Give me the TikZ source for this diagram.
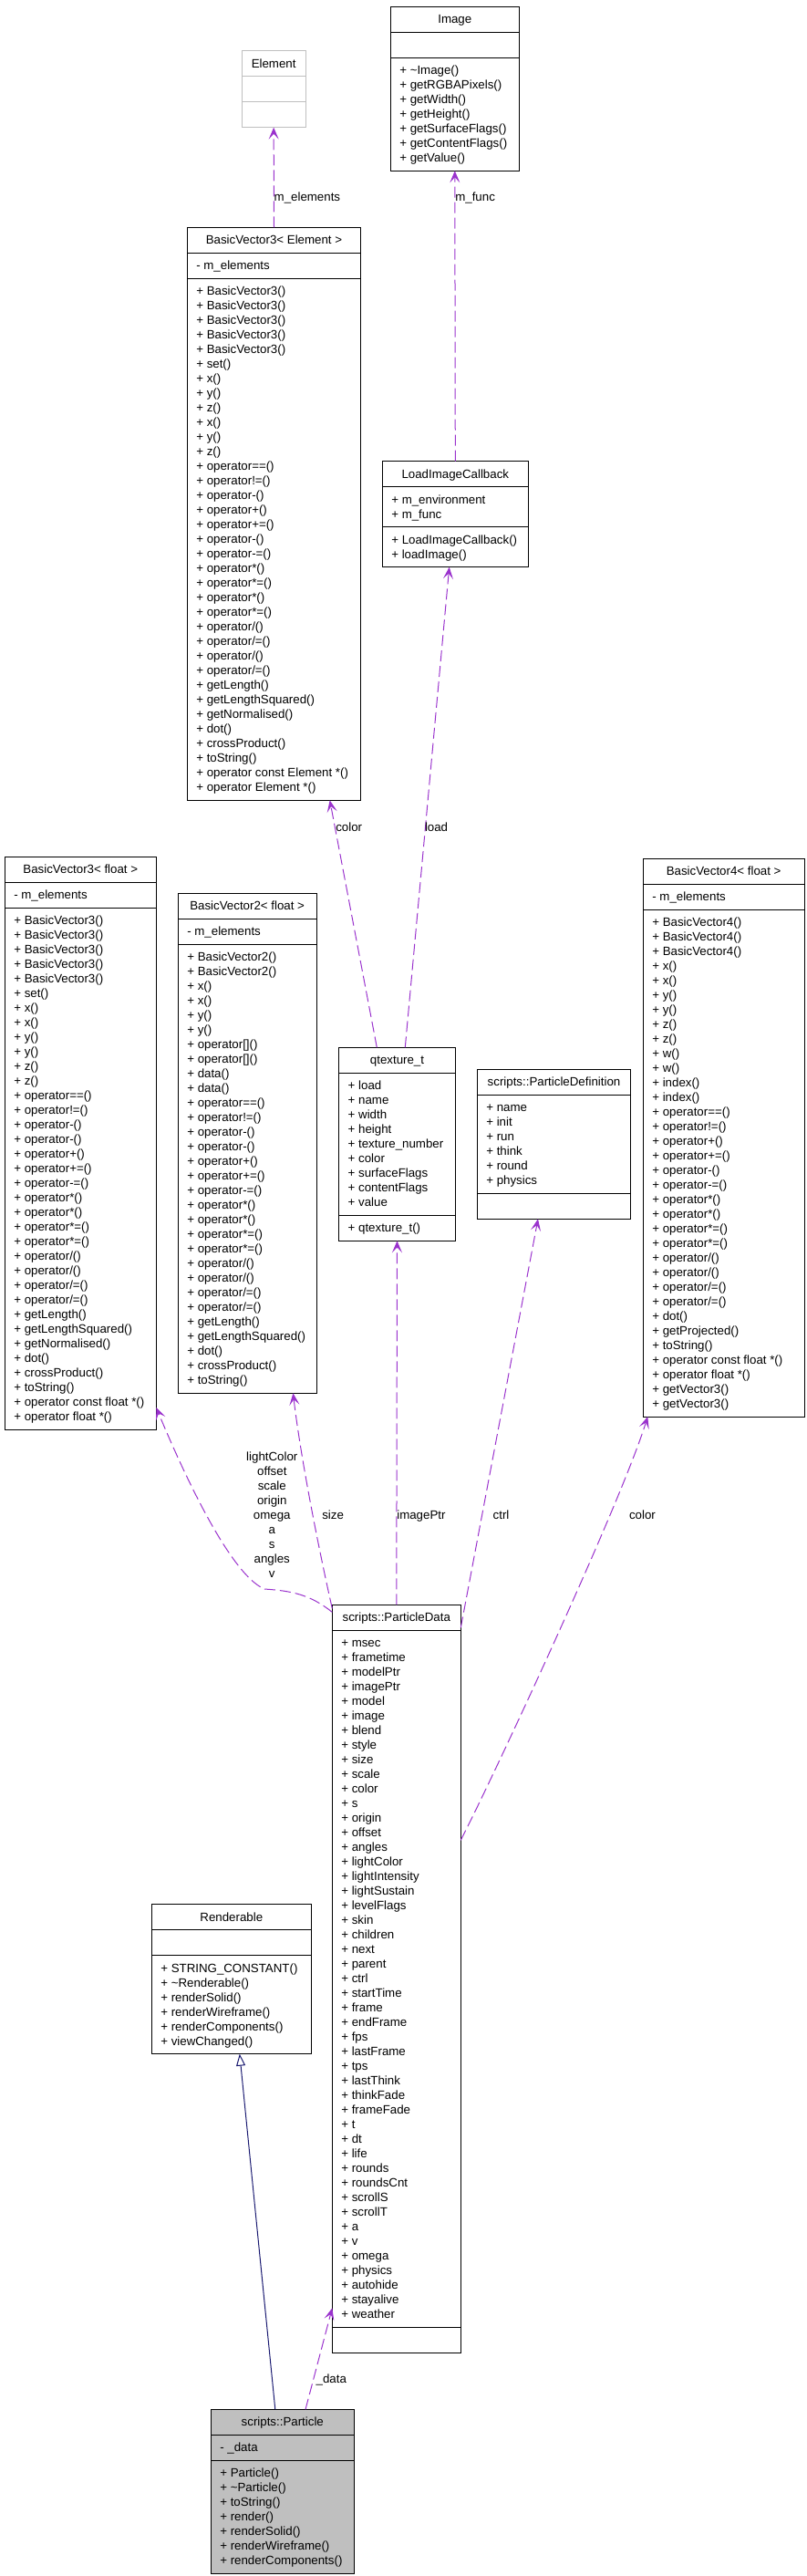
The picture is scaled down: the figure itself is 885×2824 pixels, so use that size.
\documentclass[tikz,border=0pt]{standalone}
\usepackage{fontspec}
\setmainfont{Liberation Sans}
\usetikzlibrary{shapes.multipart,arrows.meta}
\definecolor{dkor}{HTML}{9A32CD}
\definecolor{navyc}{HTML}{191970}
\definecolor{gry}{HTML}{BFBFBF}
\newcommand{\st}{\rule[-3.5pt]{0pt}{16pt}}
\newcommand{\pu}[1]{\st\mbox{+ #1}}
\newcommand{\pv}[1]{\st\mbox{- #1}}
\newcommand{\ttl}[1]{\st #1}
\hfuzz=50pt
\begin{document}
\begin{tikzpicture}[x=1pt,y=-1pt,
  cls/.style={rectangle split, rectangle split parts=3, draw=black, line width=1pt,
    rectangle split part align={center,left,left}, align=left,
    inner xsep=10pt, inner ysep=5.5pt, outer sep=0pt, anchor=north west,
    font=\fontsize{13.3pt}{16pt}\selectfont},
  lbl/.style={inner sep=0pt, outer sep=0pt, font=\fontsize{13.3pt}{16pt}\selectfont},
  use/.style={draw=dkor, line width=1pt, dash pattern=on 12pt off 5pt,
    -{Stealth[length=13pt,width=11pt,inset=6pt]}},
  inh/.style={draw=navyc, line width=1pt, -{Triangle[open,length=13pt,width=10pt]}}]
\useasboundingbox (0,0) rectangle (885,2824);

% classes
\node[cls, draw=gry, minimum width=70.3pt] (el) at (265,55.7)
  {\ttl{Element}\nodepart{second}\st\nodepart{third}\st};

\node[cls, minimum width=141pt] (img) at (428.3,7.3)
  {\ttl{Image}\nodepart{second}\st\nodepart{third}%
  \pu{\textasciitilde Image()}\\\pu{getRGBAPixels()}\\\pu{getWidth()}\\\pu{getHeight()}\\%
  \pu{getSurfaceFlags()}\\\pu{getContentFlags()}\\\pu{getValue()}};

\node[cls, minimum width=190.4pt] (bve) at (205.3,249.3)
  {\ttl{BasicVector3< Element >}\nodepart{second}\pv{m\_elements}\nodepart{third}%
  \pu{BasicVector3()}\\\pu{BasicVector3()}\\\pu{BasicVector3()}\\\pu{BasicVector3()}\\\pu{BasicVector3()}\\%
  \pu{set()}\\\pu{x()}\\\pu{y()}\\\pu{z()}\\\pu{x()}\\\pu{y()}\\\pu{z()}\\%
  \pu{operator==()}\\\pu{operator!=()}\\\pu{operator-()}\\\pu{operator+()}\\\pu{operator+=()}\\%
  \pu{operator-()}\\\pu{operator-=()}\\\pu{operator*()}\\\pu{operator*=()}\\\pu{operator*()}\\%
  \pu{operator*=()}\\\pu{operator/()}\\\pu{operator/=()}\\\pu{operator/()}\\\pu{operator/=()}\\%
  \pu{getLength()}\\\pu{getLengthSquared()}\\\pu{getNormalised()}\\\pu{dot()}\\%
  \pu{crossProduct()}\\\pu{toString()}\\\pu{operator const Element *()}\\\pu{operator Element *()}};

\node[cls, minimum width=160pt] (lic) at (419.3,505.7)
  {\ttl{LoadImageCallback}\nodepart{second}\pu{m\_environment}\\\pu{m\_func}\nodepart{third}%
  \pu{LoadImageCallback()}\\\pu{loadImage()}};

\node[cls, minimum width=166pt] (bv3f) at (5.3,939)
  {\ttl{BasicVector3< float >}\nodepart{second}\pv{m\_elements}\nodepart{third}%
  \pu{BasicVector3()}\\\pu{BasicVector3()}\\\pu{BasicVector3()}\\\pu{BasicVector3()}\\\pu{BasicVector3()}\\%
  \pu{set()}\\\pu{x()}\\\pu{x()}\\\pu{y()}\\\pu{y()}\\\pu{z()}\\\pu{z()}\\%
  \pu{operator==()}\\\pu{operator!=()}\\\pu{operator-()}\\\pu{operator-()}\\\pu{operator+()}\\%
  \pu{operator+=()}\\\pu{operator-=()}\\\pu{operator*()}\\\pu{operator*()}\\\pu{operator*=()}\\%
  \pu{operator*=()}\\\pu{operator/()}\\\pu{operator/()}\\\pu{operator/=()}\\\pu{operator/=()}\\%
  \pu{getLength()}\\\pu{getLengthSquared()}\\\pu{getNormalised()}\\\pu{dot()}\\%
  \pu{crossProduct()}\\\pu{toString()}\\\pu{operator const float *()}\\\pu{operator float *()}};

\node[cls, minimum width=151.7pt] (bv2f) at (195.3,979.3)
  {\ttl{BasicVector2< float >}\nodepart{second}\pv{m\_elements}\nodepart{third}%
  \pu{BasicVector2()}\\\pu{BasicVector2()}\\\pu{x()}\\\pu{x()}\\\pu{y()}\\\pu{y()}\\%
  \pu{operator[]()}\\\pu{operator[]()}\\\pu{data()}\\\pu{data()}\\%
  \pu{operator==()}\\\pu{operator!=()}\\\pu{operator-()}\\\pu{operator-()}\\\pu{operator+()}\\%
  \pu{operator+=()}\\\pu{operator-=()}\\\pu{operator*()}\\\pu{operator*()}\\\pu{operator*=()}\\%
  \pu{operator*=()}\\\pu{operator/()}\\\pu{operator/()}\\\pu{operator/=()}\\\pu{operator/=()}\\%
  \pu{getLength()}\\\pu{getLengthSquared()}\\\pu{dot()}\\\pu{crossProduct()}\\\pu{toString()}};

\node[cls, minimum width=127.6pt] (qt) at (371.7,1148.3)
  {\ttl{qtexture\_t}\nodepart{second}%
  \pu{load}\\\pu{name}\\\pu{width}\\\pu{height}\\\pu{texture\_number}\\\pu{color}\\%
  \pu{surfaceFlags}\\\pu{contentFlags}\\\pu{value}\nodepart{third}\pu{qtexture\_t()}};

\node[cls, minimum width=168.4pt] (pdef) at (523.3,1172.3)
  {\ttl{scripts::ParticleDefinition}\nodepart{second}%
  \pu{name}\\\pu{init}\\\pu{run}\\\pu{think}\\\pu{round}\\\pu{physics}\nodepart{third}\st};

\node[cls, minimum width=176.7pt] (bv4f) at (705.3,941)
  {\ttl{BasicVector4< float >}\nodepart{second}\pv{m\_elements}\nodepart{third}%
  \pu{BasicVector4()}\\\pu{BasicVector4()}\\\pu{BasicVector4()}\\%
  \pu{x()}\\\pu{x()}\\\pu{y()}\\\pu{y()}\\\pu{z()}\\\pu{z()}\\\pu{w()}\\\pu{w()}\\%
  \pu{index()}\\\pu{index()}\\%
  \pu{operator==()}\\\pu{operator!=()}\\\pu{operator+()}\\\pu{operator+=()}\\\pu{operator-()}\\%
  \pu{operator-=()}\\\pu{operator*()}\\\pu{operator*()}\\\pu{operator*=()}\\\pu{operator*=()}\\%
  \pu{operator/()}\\\pu{operator/()}\\\pu{operator/=()}\\\pu{operator/=()}\\%
  \pu{dot()}\\\pu{getProjected()}\\\pu{toString()}\\\pu{operator const float *()}\\%
  \pu{operator float *()}\\\pu{getVector3()}\\\pu{getVector3()}};

\node[cls, minimum width=141pt] (pdata) at (364.3,1759.3)
  {\ttl{scripts::ParticleData}\nodepart{second}%
  \pu{msec}\\\pu{frametime}\\\pu{modelPtr}\\\pu{imagePtr}\\\pu{model}\\\pu{image}\\%
  \pu{blend}\\\pu{style}\\\pu{size}\\\pu{scale}\\\pu{color}\\\pu{s}\\\pu{origin}\\%
  \pu{offset}\\\pu{angles}\\\pu{lightColor}\\\pu{lightIntensity}\\\pu{lightSustain}\\%
  \pu{levelFlags}\\\pu{skin}\\\pu{children}\\\pu{next}\\\pu{parent}\\\pu{ctrl}\\%
  \pu{startTime}\\\pu{frame}\\\pu{endFrame}\\\pu{fps}\\\pu{lastFrame}\\\pu{tps}\\%
  \pu{lastThink}\\\pu{thinkFade}\\\pu{frameFade}\\\pu{t}\\\pu{dt}\\\pu{life}\\%
  \pu{rounds}\\\pu{roundsCnt}\\\pu{scrollS}\\\pu{scrollT}\\\pu{a}\\\pu{v}\\%
  \pu{omega}\\\pu{physics}\\\pu{autohide}\\\pu{stayalive}\\\pu{weather}%
  \nodepart{third}\st};

\node[cls, minimum width=175pt] (rend) at (166.3,2087.7)
  {\ttl{Renderable}\nodepart{second}\st\nodepart{third}%
  \pu{STRING\_CONSTANT()}\\\pu{\textasciitilde Renderable()}\\\pu{renderSolid()}\\%
  \pu{renderWireframe()}\\\pu{renderComponents()}\\\pu{viewChanged()}};

\node[cls, fill=gry, minimum width=157pt] (part) at (231.3,2641.4)
  {\ttl{scripts::Particle}\nodepart{second}\pv{\_data}\nodepart{third}%
  \pu{Particle()}\\\pu{\textasciitilde Particle()}\\\pu{toString()}\\\pu{render()}\\%
  \pu{renderSolid()}\\\pu{renderWireframe()}\\\pu{renderComponents()}};

% connectors
\draw[use] (bve.north) -- (el.south);
\draw[use] (lic.north) -- (img.south);
\draw[use] ([xshift=41.6pt]qt.north west) -- ([xshift=156.4pt]bve.south west);
\draw[use] ([xshift=72.6pt]qt.north west) -- ([xshift=73.4pt]lic.south west);
\draw[use] (pdata.north) -- (qt.south);
\draw[use] ([yshift=-25pt]pdata.north east) -- ([xshift=-17.5pt]pdef.south);
\draw[use] ([yshift=-8pt]pdata.north west) .. controls (340,1748) and (320,1744) .. (290,1742)
   .. controls (250,1725) and (195,1600) .. ([yshift=24pt]bv3f.south east);
\draw[use] ([yshift=-4pt]pdata.north west) .. controls (350,1700) and (330,1600) .. ([xshift=-25.6pt]bv2f.south east);
\draw[use] ([yshift=-258pt]pdata.north east) .. controls (540,1950) and (680,1650) .. ([xshift=5pt]bv4f.south west);
\draw[inh] ([xshift=-8pt]part.north) -- ([xshift=9pt]rend.south);
\draw[use] ([xshift=-53.3pt]part.north east) -- ([yshift=49pt]pdata.south west);

% labels
\node[lbl, anchor=north west] (l1) at (300.7,208) {\st m\_elements};
\node[lbl, anchor=north west] (l2) at (499.3,208) {\st m\_func};
\node[lbl, anchor=north west] (l3) at (368.3,898.7) {\st color};
\node[lbl, anchor=north west] (l4) at (466,898.7) {\st load};
\node[lbl, anchor=north, align=center] (l5) at (298.3,1588.7)
  {\st lightColor\\\st offset\\\st scale\\\st origin\\\st omega\\\st a\\\st s\\\st angles\\\st v};
\node[lbl, anchor=north west] (l6) at (353.3,1653) {\st size};
\node[lbl, anchor=north west] (l7) at (435.3,1653) {\st imagePtr};
\node[lbl, anchor=north west] (l8) at (540.7,1653) {\st ctrl};
\node[lbl, anchor=north west] (l9) at (690,1653) {\st color};
\node[lbl, anchor=north west] (l10) at (346.7,2599.5) {\st \_data};
\end{tikzpicture}
\end{document}
